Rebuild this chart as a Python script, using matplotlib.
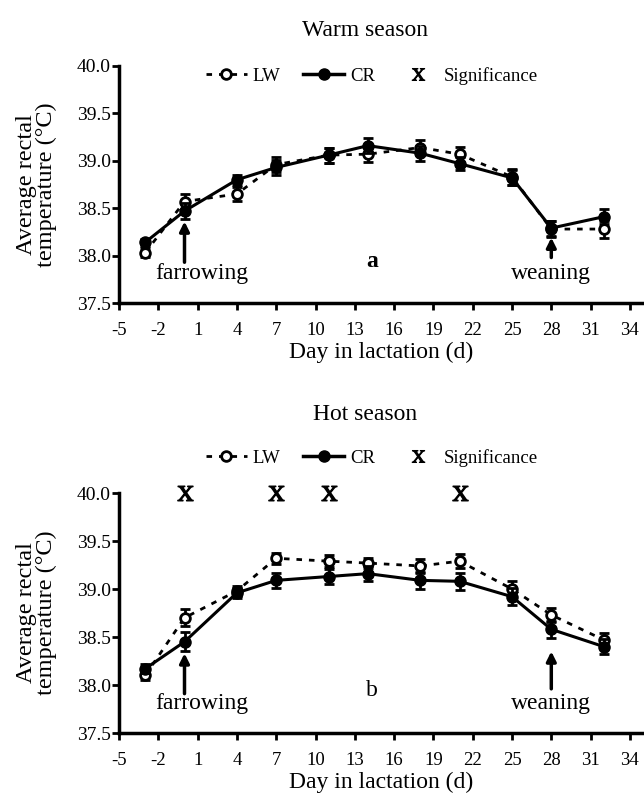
import matplotlib
matplotlib.use("Agg")
import matplotlib.pyplot as plt
from matplotlib.lines import Line2D

plt.rcParams['font.family'] = ['Liberation Serif', 'DejaVu Serif']
plt.rcParams['mathtext.fontset'] = 'stix'
plt.rcParams['axes.unicode_minus'] = False

days = [-3, 0, 4, 7, 11, 14, 18, 21, 25, 28, 32]

# warm season
warm_lw = [38.03, 38.57, 38.65, 38.96, 39.06, 39.07, 39.14, 39.07, 38.83, 38.28, 38.28]
warm_cr = [38.14, 38.47, 38.80, 38.93, 39.06, 39.16, 39.08, 38.97, 38.82, 38.29, 38.41]
warm_lw_err = [0.05, 0.08, 0.07, 0.08, 0.08, 0.08, 0.08, 0.08, 0.08, 0.08, 0.09]
warm_cr_err = [0.04, 0.08, 0.05, 0.08, 0.08, 0.08, 0.08, 0.07, 0.08, 0.08, 0.08]

# hot season
hot_lw = [38.10, 38.70, 38.98, 39.32, 39.29, 39.27, 39.24, 39.29, 39.00, 38.73, 38.47]
hot_cr = [38.17, 38.45, 38.96, 39.09, 39.13, 39.16, 39.09, 39.08, 38.92, 38.58, 38.40]
hot_lw_err = [0.05, 0.09, 0.05, 0.06, 0.06, 0.05, 0.07, 0.07, 0.08, 0.07, 0.07]
hot_cr_err = [0.05, 0.10, 0.05, 0.08, 0.08, 0.08, 0.09, 0.09, 0.09, 0.09, 0.08]
hot_signif = [0, 7, 11, 21]

xticks = list(range(-5, 35, 3))
yticks = [37.5, 38.0, 38.5, 39.0, 39.5, 40.0]

SIG = r'$\mathrm{X}$'

W, H = 644, 794
fig = plt.figure(figsize=(W / 100, H / 100), dpi=100)


def make_ax(top_px, bottom_px):
    left, right = 119, 643
    return fig.add_axes([left / W, 1 - bottom_px / H, (right - left) / W, (bottom_px - top_px) / H])


def draw(ax, lw, cr, lw_err, cr_err, letter, letter_bold, arrows):
    ax.errorbar(days, lw, yerr=lw_err, color='black', ls=(0, (2, 2.5)), lw=2,
                marker='o', mfc='white', mec='black', mew=2, ms=7,
                capsize=3.5, elinewidth=2, capthick=2, zorder=3)
    ax.errorbar(days, cr, yerr=cr_err, color='black', ls='-', lw=2.2,
                marker='o', mfc='black', mec='black', ms=8,
                capsize=3.5, elinewidth=2, capthick=2, zorder=4)
    ax.set_xlim(-5, 35)
    ax.set_ylim(37.5, 40.0)
    ax.set_xticks(xticks)
    ax.set_yticks(yticks)
    ax.set_yticklabels(['%.1f' % v for v in yticks])
    for s in ['top', 'right']:
        ax.spines[s].set_visible(False)
    for s in ['left', 'bottom']:
        ax.spines[s].set_linewidth(2.5)
    ax.tick_params(direction='out', width=2, length=5)
    ax.tick_params(axis='x', labelsize=13.5, pad=9)
    ax.tick_params(axis='y', labelsize=14, pad=1)
    ax.set_ylabel('Average rectal\ntemperature (\u00b0C)', fontsize=17.5, linespacing=0.95)
    ax.yaxis.set_label_coords(-0.118, 0.5)
    ax.set_xlabel('Day in lactation (d)', fontsize=17, labelpad=2)
    for (x, ytip, ybase) in arrows:
        ax.annotate('', xy=(x, ytip), xytext=(x, ybase),
                    arrowprops=dict(arrowstyle='-|>', color='black', lw=2.5,
                                    mutation_scale=14, shrinkA=0, shrinkB=0))
    ax.text(1.3, 37.81, 'farrowing', fontsize=17, ha='center', va='center')
    ax.text(28.0, 37.81, 'weaning', fontsize=17, ha='center', va='center')
    ax.text(14.3, 37.94, letter, fontsize=17, ha='center', va='center',
            fontweight='bold' if letter_bold else 'normal')


legend_handles = [
    Line2D([], [], color='black', ls=(0, (2, 2.5)), lw=2, marker='o', mfc='white', mec='black', mew=2, ms=7),
    Line2D([], [], color='black', ls='-', lw=2.5, marker='o', mfc='black', ms=8),
    Line2D([], [], color='black', ls='none', marker=SIG, ms=9, mew=0.8),
]
legend_labels = ['LW', 'CR', 'Significance']

ax1 = make_ax(66, 303)
draw(ax1, warm_lw, warm_cr, warm_lw_err, warm_cr_err, 'a', True,
     [(0, 38.36, 37.93), (28, 38.19, 37.98)])
fig.text(365 / W, 1 - 30 / H, 'Warm season', fontsize=17, ha='center', va='center')
fig.legend(legend_handles, legend_labels, loc='center', bbox_to_anchor=(372 / W, 1 - 76 / H),
           ncol=3, frameon=False, fontsize=13.5, handlelength=2.2, handletextpad=0.3,
           columnspacing=1.2)

ax2 = make_ax(493, 733)
draw(ax2, hot_lw, hot_cr, hot_lw_err, hot_cr_err, 'b', False,
     [(0, 38.33, 37.91), (28, 38.35, 37.96)])
ax2.plot(hot_signif, [40.0] * len(hot_signif), ls='none', color='black',
         marker=SIG, ms=11, mew=1.0, clip_on=False, zorder=5)
fig.text(365 / W, 1 - 414 / H, 'Hot season', fontsize=17, ha='center', va='center')
fig.legend(legend_handles, legend_labels, loc='center', bbox_to_anchor=(372 / W, 1 - 458 / H),
           ncol=3, frameon=False, fontsize=13.5, handlelength=2.2, handletextpad=0.3,
           columnspacing=1.2)

fig.savefig('out.png', dpi=100)
